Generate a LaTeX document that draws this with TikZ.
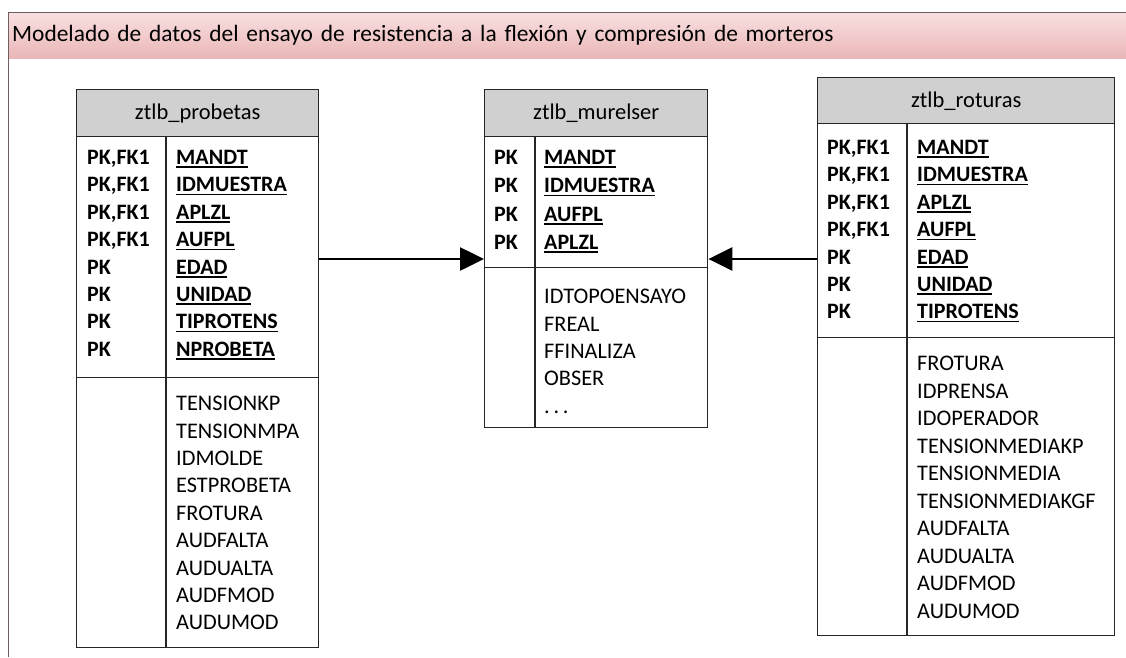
\documentclass[tikz,border=0pt]{standalone}
\usepackage{fontspec}
\setmainfont{Carlito}
\usetikzlibrary{positioning,arrows.meta,calc}
\definecolor{barTop}{RGB}{249,224,224}
\definecolor{barBot}{RGB}{234,182,184}
\definecolor{barLine}{RGB}{110,96,96}
\definecolor{headGray}{RGB}{208,208,208}
\newcommand{\keyfield}[1]{\setbox0\hbox{#1}\rlap{\rule[-3.5pt]{\wd0}{1.5pt}}\box0}

\begin{document}
\begin{tikzpicture}[x=1pt,y=-1pt,>={Triangle[length=24pt,width=23pt]},
    tab head/.style={draw=black!85,fill=headGray,line width=1.4pt,inner sep=0pt,
                     anchor=north west,font=\fontsize{22.5}{26}\selectfont},
    tab box/.style={draw=black!85,line width=1.4pt,inner sep=0pt,anchor=north west},
    key col/.style={anchor=north west,inner sep=0pt,align=left,
                    font=\fontsize{22}{27.4}\selectfont\bfseries},
    attr col/.style={anchor=north west,inner sep=0pt,align=left,
                     font=\fontsize{22.3}{27.4}\selectfont},
    col line/.style={draw=black!85,line width=1.4pt},
    link/.style={->,line width=2.6pt}]

\useasboundingbox (0,0) rectangle (1126,657);

% title bar
\node[anchor=north west,top color=barTop,bottom color=barBot,minimum width=1118pt,
      minimum height=46pt,inner sep=4pt,text width=1110pt,align=left,
      font=\fontsize{23.4}{27}\selectfont] (title) at (8,12)
      {Modelado de datos del ensayo de resistencia a la flexión y compresión de morteros};
\draw[barLine,line width=1pt] (title.north east) -- (title.north west) -- (8,657);

% ztlb_probetas
\node[tab head,minimum width=242pt,minimum height=47pt] (phead) at (76,89) {ztlb\_probetas};
\node[tab box,minimum width=242pt,minimum height=241pt] (pkeys) at (76,136) {};
\node[tab box,minimum width=242pt,minimum height=270pt] (pattr) at (76,377) {};
\draw[col line] ($(pkeys.north west)+(90,0)$) -- ($(pattr.south west)+(90,0)$);
\node[key col] (pkt) at (87,150) {PK,FK1\\PK,FK1\\PK,FK1\\PK,FK1\\PK\\PK\\PK\\PK};
\node[key col] (pft) at (176,150) {\keyfield{MANDT}\\\keyfield{IDMUESTRA}\\\keyfield{APLZL}\\
    \keyfield{AUFPL}\\\keyfield{EDAD}\\\keyfield{UNIDAD}\\\keyfield{TIPROTENS}\\\keyfield{NPROBETA}};
\node[attr col] (pat) at (176,396) {TENSIONKP\\TENSIONMPA\\IDMOLDE\\ESTPROBETA\\FROTURA\\
    AUDFALTA\\AUDUALTA\\AUDFMOD\\AUDUMOD};

% ztlb_murelser
\node[tab head,minimum width=223pt,minimum height=47pt] (mhead) at (484,89) {ztlb\_murelser};
\node[tab box,minimum width=223pt,minimum height=131pt] (mkeys) at (484,136) {};
\node[tab box,minimum width=223pt,minimum height=160pt] (mattr) at (484,267) {};
\draw[col line] ($(mkeys.north west)+(51,0)$) -- ($(mattr.south west)+(51,0)$);
\node[key col,font=\fontsize{22}{28.3}\selectfont\bfseries] (mkt) at (494,150) {PK\\PK\\PK\\PK};
\node[key col,font=\fontsize{22}{28.3}\selectfont\bfseries] (mft) at (544,150)
    {\keyfield{MANDT}\\\keyfield{IDMUESTRA}\\\keyfield{AUFPL}\\\keyfield{APLZL}};
\node[attr col] (mat) at (544,289) {IDTOPOENSAYO\\FREAL\\FFINALIZA\\OBSER\\.\,.\,.};

% ztlb_roturas
\node[tab head,minimum width=297pt,minimum height=46pt] (rhead) at (817,77) {ztlb\_roturas};
\node[tab box,minimum width=297pt,minimum height=214pt] (rkeys) at (817,123) {};
\node[tab box,minimum width=297pt,minimum height=298pt] (rattr) at (817,337) {};
\draw[col line] ($(rkeys.north west)+(90,0)$) -- ($(rattr.south west)+(90,0)$);
\node[key col] (rkt) at (827,140) {PK,FK1\\PK,FK1\\PK,FK1\\PK,FK1\\PK\\PK\\PK};
\node[key col] (rft) at (917,140) {\keyfield{MANDT}\\\keyfield{IDMUESTRA}\\\keyfield{APLZL}\\
    \keyfield{AUFPL}\\\keyfield{EDAD}\\\keyfield{UNIDAD}\\\keyfield{TIPROTENS}};
\node[attr col,font=\fontsize{22.3}{27.5}\selectfont] (rat) at (917,356) {FROTURA\\IDPRENSA\\IDOPERADOR\\
    TENSIONMEDIAKP\\TENSIONMEDIA\\TENSIONMEDIAKGF\\AUDFALTA\\AUDUALTA\\AUDFMOD\\AUDUMOD};

% relaciones
\draw[link] ($(pkeys.north east)+(0,123)$) -- ($(mkeys.north west)+(0,123)$);
\draw[link] ($(rkeys.north west)+(0,136)$) -- ($(mkeys.north east)+(0,123)$);

\end{tikzpicture}
\end{document}
